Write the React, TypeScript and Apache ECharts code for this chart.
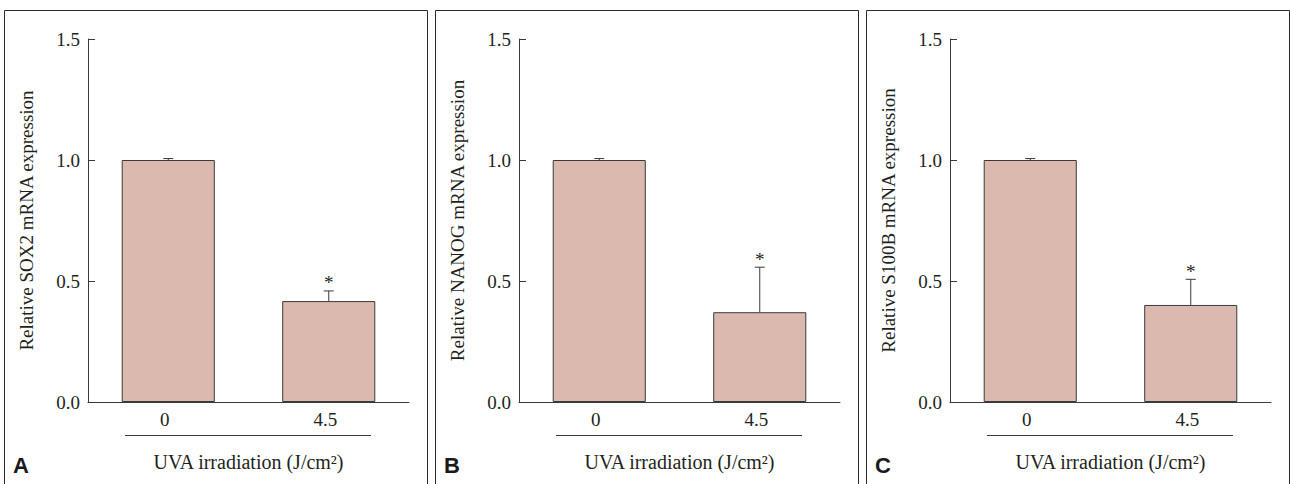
import React, { useEffect, useRef } from 'react';
import * as echarts from 'echarts';

// ---- data ----
const categories = ['0', '4.5'];
const sox2Means = [1.0, 0.417];
const sox2Errors = [0.006, 0.042];
const nanogMeans = [1.0, 0.371];
const nanogErrors = [0.006, 0.186];
const s100bMeans = [1.0, 0.401];
const s100bErrors = [0.006, 0.106];
const significant = [false, true];
const yMin = 0;
const yMax = 1.5;
const yInterval = 0.5;
const panelLetters = ['A', 'B', 'C'];
const yNames = [
  'Relative SOX2 mRNA expression',
  'Relative NANOG mRNA expression',
  'Relative S100B mRNA expression',
];
const xName = 'UVA irradiation (J/cm\u00B2)';

const SERIF = '"Liberation Serif", "Times New Roman", serif';
const TEXT = '#231f20';
const LINE = '#3a3a3a';
const BAR = '#dbb9ae';

export default function App() {
  const ref = useRef<HTMLDivElement>(null);
  useEffect(() => {
    const chart = echarts.init(ref.current!, null, { renderer: 'svg', width: 1290, height: 484 });
    const means = [sox2Means, nanogMeans, s100bMeans];
    const errs = [sox2Errors, nanogErrors, s100bErrors];
    const gridLefts = [88, 519, 950];
    const panelX = [
      [4.5, 427.5],
      [435.5, 858.5],
      [866.5, 1289.5],
    ];
    const gridW = 321;
    const grids: any[] = [];
    const xAxes: any[] = [];
    const yAxes: any[] = [];
    const series: any[] = [];
    const graphics: any[] = [];

    for (let p = 0; p < 3; p++) {
      grids.push({ left: gridLefts[p], top: 39, width: gridW, height: 363, containLabel: false });
      xAxes.push({
        type: 'category',
        gridIndex: p,
        data: categories,
        boundaryGap: true,
        axisLine: { lineStyle: { color: LINE, width: 1 } },
        axisTick: { show: false },
        axisLabel: { color: TEXT, fontFamily: SERIF, fontSize: 19, margin: 8, padding: [0, 7, 0, 0] },
        name: xName,
        nameLocation: 'middle',
        nameGap: 50,
        nameTextStyle: { color: TEXT, fontFamily: SERIF, fontSize: 20 },
      });
      yAxes.push({
        type: 'value',
        gridIndex: p,
        min: yMin,
        max: yMax,
        interval: yInterval,
        splitLine: { show: false },
        axisLine: { show: true, lineStyle: { color: LINE, width: 1 } },
        axisTick: { show: true, inside: true, length: 7, lineStyle: { color: LINE, width: 1 } },
        axisLabel: {
          color: TEXT,
          fontFamily: SERIF,
          fontSize: 19,
          margin: 8,
          formatter: (v: number) => v.toFixed(1),
        },
        name: yNames[p],
        nameLocation: 'middle',
        nameGap: 52,
        nameTextStyle: { color: TEXT, fontFamily: SERIF, fontSize: 19 },
      });
      series.push({
        type: 'bar',
        xAxisIndex: p,
        yAxisIndex: p,
        data: means[p],
        barWidth: '58%',
        itemStyle: { color: BAR, borderColor: LINE, borderWidth: 1 },
        silent: true,
      });
      const errData = means[p].map((m, i) => [i, m, errs[p][i], significant[i] ? 1 : 0]);
      series.push({
        type: 'custom',
        xAxisIndex: p,
        yAxisIndex: p,
        data: errData,
        silent: true,
        z: 5,
        renderItem: (params: any, api: any) => {
          const idx = api.value(0);
          const m = api.value(1);
          const e = api.value(2);
          const sig = api.value(3);
          const base = api.coord([idx, m]);
          const top = api.coord([idx, m + e]);
          const cap = 5;
          const children: any[] = [
            { type: 'line', shape: { x1: base[0], y1: base[1], x2: top[0], y2: top[1] }, style: { stroke: LINE, lineWidth: 1 } },
            { type: 'line', shape: { x1: top[0] - cap, y1: top[1], x2: top[0] + cap, y2: top[1] }, style: { stroke: LINE, lineWidth: 1 } },
          ];
          if (sig) {
            children.push({
              type: 'text',
              x: top[0],
              y: top[1] - 8,
              style: { text: '*', fontSize: 19, fontFamily: SERIF, fill: TEXT, align: 'center', verticalAlign: 'middle' },
            });
          }
          return { type: 'group', children };
        },
      });
      // panel frame
      graphics.push({
        type: 'rect',
        shape: { x: panelX[p][0], y: 10.5, width: panelX[p][1] - panelX[p][0], height: 600 },
        style: { fill: 'none', stroke: '#2b2b2b', lineWidth: 1 },
        silent: true,
      });
      // line under categories
      graphics.push({
        type: 'line',
        shape: { x1: gridLefts[p] + 37, y1: 435.5, x2: gridLefts[p] + 283, y2: 435.5 },
        style: { stroke: LINE, lineWidth: 1 },
        silent: true,
      });
      graphics.push({
        type: 'text',
        x: panelX[p][0] + 8.5,
        y: 476,
        style: {
          text: panelLetters[p],
          fontFamily: '"Liberation Sans", Arial, sans-serif',
          fontWeight: 'bold',
          fontSize: 22,
          fill: '#1a1a1a',
          align: 'left',
          verticalAlign: 'bottom',
        },
        silent: true,
      });
    }

    chart.setOption({
      animation: false,
      backgroundColor: '#ffffff',
      grid: grids,
      xAxis: xAxes,
      yAxis: yAxes,
      series,
      graphic: graphics,
    });
    return () => chart.dispose();
  }, []);
  return (
    <div
      ref={ref}
      style={{ position: 'absolute', left: 0, top: 0, width: 1290, height: 484, background: '#fff' }}
    />
  );
}
